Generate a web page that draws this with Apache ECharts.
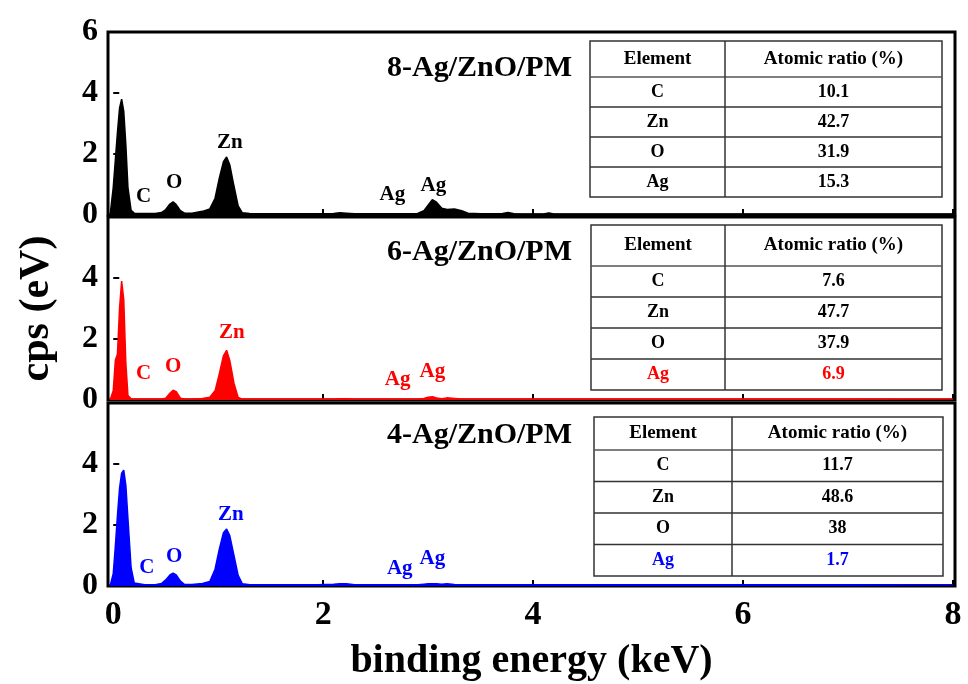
<!DOCTYPE html>
<html>
<head>
<meta charset="utf-8">
<title>EDS spectra Ag/ZnO/PM</title>
<script src="https://cdn.jsdelivr.net/npm/echarts@6/dist/echarts.min.js"></script>
<style>
  html, body { margin: 0; padding: 0; background: #fff; }
  #main { width: 968px; height: 684px; }
</style>
</head>
<body>
<div id="main"></div>
<script>
// energy grid (keV) shared by the three spectra
const energy = [-0.03, 0.00, 0.02, 0.04, 0.06, 0.08, 0.10, 0.12, 0.14, 0.17,
  0.20, 0.30, 0.40, 0.46, 0.50, 0.54, 0.57, 0.60, 0.64, 0.68,
  0.75, 0.85, 0.92, 0.97, 1.01, 1.05, 1.08, 1.11, 1.15, 1.19,
  1.23, 1.30, 1.60, 1.95, 2.10, 2.16, 2.22, 2.30, 2.60, 2.90,
  2.96, 3.00, 3.04, 3.08, 3.13, 3.18, 3.25, 3.32, 3.38, 3.50,
  3.70, 3.76, 3.82, 3.90, 4.10, 4.15, 4.20, 4.40, 5.00, 6.00,
  7.00, 8.00];

// counts
const cps8 = [0, 0.9, 1.8, 2.7, 3.5, 3.8, 3.4, 2.3, 0.9, 0.15,
  0.06, 0.05, 0.05, 0.08, 0.18, 0.36, 0.43, 0.34, 0.14, 0.06,
  0.06, 0.12, 0.2, 0.55, 1.2, 1.75, 1.9, 1.65, 0.95, 0.3,
  0.07, 0.05, 0.04, 0.04, 0.05, 0.07, 0.06, 0.04, 0.04, 0.05,
  0.14, 0.32, 0.5, 0.42, 0.22, 0.18, 0.2, 0.14, 0.06, 0.04,
  0.04, 0.08, 0.04, 0.03, 0.03, 0.07, 0.03, 0.03, 0.03, 0.03,
  0.03, 0.03];
const cps6 = [0, 0.3, 1.3, 1.5, 3.0, 3.9, 3.3, 1.2, 0.15, 0.04,
  0.03, 0.03, 0.03, 0.03, 0.06, 0.22, 0.32, 0.27, 0.06, 0.03,
  0.03, 0.05, 0.09, 0.3, 0.85, 1.45, 1.63, 1.3, 0.55, 0.08,
  0.03, 0.03, 0.03, 0.03, 0.03, 0.04, 0.04, 0.03, 0.03, 0.03,
  0.05, 0.09, 0.11, 0.07, 0.04, 0.07, 0.05, 0.03, 0.03, 0.03,
  0.03, 0.03, 0.03, 0.03, 0.03, 0.03, 0.03, 0.03, 0.03, 0.03,
  0.03, 0.03];
const cps4 = [0, 0.4, 1.3, 2.3, 3.2, 3.7, 3.8, 3.3, 2.2, 0.6,
  0.1, 0.04, 0.04, 0.08, 0.2, 0.36, 0.42, 0.36, 0.16, 0.05,
  0.05, 0.08, 0.15, 0.55, 1.2, 1.75, 1.87, 1.65, 1.0, 0.35,
  0.07, 0.04, 0.04, 0.04, 0.06, 0.07, 0.07, 0.04, 0.04, 0.04,
  0.06, 0.07, 0.07, 0.07, 0.06, 0.07, 0.05, 0.04, 0.04, 0.04,
  0.04, 0.04, 0.04, 0.04, 0.04, 0.04, 0.04, 0.04, 0.04, 0.04,
  0.04, 0.04];

const samples = ['8-Ag/ZnO/PM', '6-Ag/ZnO/PM', '4-Ag/ZnO/PM'];
const colors = ['#000000', '#ff0000', '#0000ff'];

// atomic ratio tables
const elements = ['C', 'Zn', 'O', 'Ag'];
const ratio8 = ['10.1', '42.7', '31.9', '15.3'];
const ratio6 = ['7.6', '47.7', '37.9', '6.9'];
const ratio4 = ['11.7', '48.6', '38', '1.7'];

// peak annotations: name + (keV, cps) where the label sits
const peakNames = ['C', 'O', 'Zn', 'Ag', 'Ag'];
const peaks8 = [[0.29, 0.59], [0.58, 1.05], [1.11, 2.36], [2.66, 0.66], [3.05, 0.98]];
const peaks6 = [[0.29, 0.85], [0.57, 1.1], [1.13, 2.2], [2.71, 0.68], [3.04, 0.94]];
const peaks4 = [[0.32, 0.59], [0.58, 0.95], [1.12, 2.33], [2.73, 0.56], [3.04, 0.89]];

const xTicks = [0, 2, 4, 6, 8];
const yTicksTop = [0, 2, 4, 6];
const yTicks = [0, 2, 4];

const serif = '"Liberation Serif", "Times New Roman", serif';

const panels = [
  { top: 32, cps: cps8, ratios: ratio8, peaks: peaks8, yt: yTicksTop, accent: '#000',
    table: { left: 590, top: 41, width: 352, colW: 135, headerH: 36, rowH: 30 } },
  { top: 217, cps: cps6, ratios: ratio6, peaks: peaks6, yt: yTicks, accent: colors[1],
    table: { left: 591, top: 225, width: 351, colW: 134, headerH: 41, rowH: 31 } },
  { top: 403, cps: cps4, ratios: ratio4, peaks: peaks4, yt: yTicks, accent: colors[2],
    table: { left: 594, top: 417, width: 349, colW: 138, headerH: 33, rowH: 31.5 } }
];
const gridH = 183;

function tableGraphic(t, ratios, accent) {
  const totalH = t.headerH + 4 * t.rowH;
  const kids = [];
  kids.push({ type: 'rect', shape: { x: 0, y: 0, width: t.width, height: totalH },
    style: { fill: '#fff', stroke: '#333', lineWidth: 1.5 } });
  for (let i = 0; i < 4; i++) {
    const y = t.headerH + i * t.rowH;
    kids.push({ type: 'line', shape: { x1: 0, y1: y, x2: t.width, y2: y },
      style: { stroke: i === 0 ? '#555' : '#333', lineWidth: 1.5 } });
  }
  kids.push({ type: 'line', shape: { x1: t.colW, y1: 0, x2: t.colW, y2: totalH },
    style: { stroke: '#333', lineWidth: 1.5 } });
  const txt = (s, x, y, size, color) => ({
    type: 'text', x: x, y: y,
    style: { text: s, fill: color, font: 'bold ' + size + 'px ' + serif,
      textAlign: 'center', textVerticalAlign: 'middle', verticalAlign: 'middle' }
  });
  const c1 = t.colW / 2, c2 = t.colW + (t.width - t.colW) / 2;
  kids.push(txt('Element', c1, t.headerH / 2, 19, '#000'));
  kids.push(txt('Atomic ratio (%)', c2, t.headerH / 2, 19, '#000'));
  elements.forEach((el, i) => {
    const y = t.headerH + (i + 0.5) * t.rowH;
    const col = el === 'Ag' ? accent : '#000';
    kids.push(txt(el, c1, y, 18, col));
    kids.push(txt(ratios[i], c2, y, 18, col));
  });
  return { type: 'group', x: t.left, y: t.top, z: 10, children: kids };
}

const grid = [], xAxis = [], yAxis = [], series = [], title = [], graphic = [];

panels.forEach((p, i) => {
  const last = i === panels.length - 1;
  grid.push({ left: 108, right: 13, top: p.top, height: gridH, show: true,
    borderColor: '#000', borderWidth: 3, backgroundColor: 'transparent',
    outerBoundsMode: 'none' });
  xAxis.push({
    type: 'value', gridIndex: i, min: -0.05, max: 8.02,
    axisLine: { show: false },
    splitLine: { show: false },
    axisTick: { show: true, inside: true, length: 6, customValues: xTicks,
      lineStyle: { color: '#000', width: 2 } },
    axisLabel: { show: last, customValues: xTicks, margin: 12, color: '#000',
      fontSize: 34, fontWeight: 'bold', fontFamily: serif },
    name: last ? 'binding energy (keV)' : '',
    nameLocation: 'middle', nameGap: 56,
    nameTextStyle: { fontSize: 40, fontWeight: 'bold', fontFamily: serif, color: '#000' }
  });
  yAxis.push({
    type: 'value', gridIndex: i, min: 0, max: 6,
    axisLine: { show: false },
    splitLine: { show: false },
    axisTick: { show: true, inside: true, length: 6, customValues: p.yt,
      lineStyle: { color: '#000', width: 2 } },
    axisLabel: { customValues: p.yt, margin: 10, color: '#000',
      fontSize: 32, fontWeight: 'bold', fontFamily: serif },
    name: i === 1 ? 'cps (eV)' : '',
    nameLocation: 'middle', nameGap: 50,
    nameTextStyle: { fontSize: 42, fontWeight: 'bold', fontFamily: serif, color: '#000' }
  });
  series.push({
    type: 'line', xAxisIndex: i, yAxisIndex: i,
    data: energy.map((e, k) => [e, p.cps[k]]),
    showSymbol: false, symbol: 'none', silent: true,
    lineStyle: { color: colors[i], width: 1.5 },
    areaStyle: { color: colors[i], opacity: 1 },
    z: 3
  });
  series.push({
    type: 'scatter', xAxisIndex: i, yAxisIndex: i, symbolSize: 0, silent: true,
    itemStyle: { opacity: 1 },
    data: p.peaks.map((pt, k) => ({ name: peakNames[k], value: pt })),
    label: { show: true, position: 'inside', formatter: (d) => d.name, opacity: 1,
      color: colors[i], fontSize: 21, fontWeight: 'bold', fontFamily: serif },
    z: 4
  });
  title.push({
    text: samples[i], right: 391, top: p.top + [16, 15, 12][i],
    textStyle: { fontSize: 30, fontWeight: 'bold', fontFamily: serif, color: '#000' }
  });
  graphic.push(tableGraphic(p.table, p.ratios, p.accent));
});

const chart = echarts.init(document.getElementById('main'));
chart.setOption({
  animation: false,
  backgroundColor: '#fff',
  title: title,
  grid: grid,
  xAxis: xAxis,
  yAxis: yAxis,
  series: series,
  graphic: graphic
});
</script>
</body>
</html>
